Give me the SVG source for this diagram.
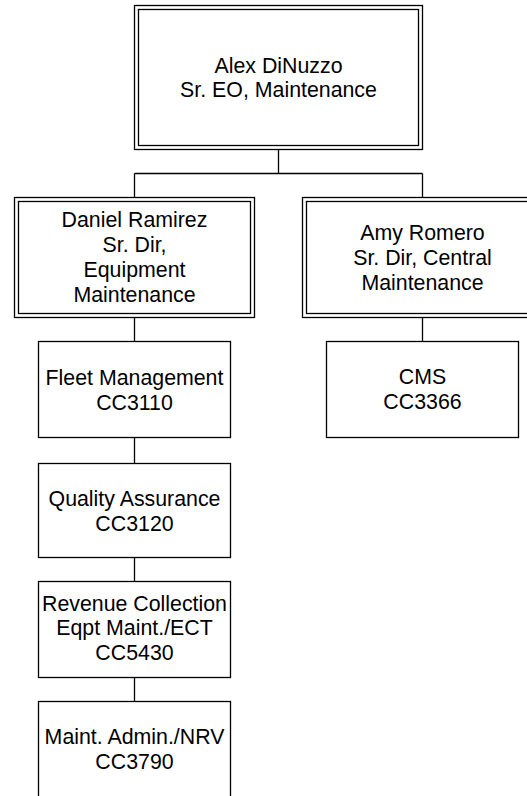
<svg xmlns="http://www.w3.org/2000/svg" width="527" height="796" viewBox="0 0 527 796">
<style>
rect { fill: #ffffff; stroke: #000000; stroke-width: 1.3; }
.conn line { stroke: #000000; stroke-width: 1.3; }
text { font-family: "Liberation Sans", Arial, sans-serif; font-size: 21.33px; fill: #000000; text-anchor: middle; }
</style>
<rect x="0" y="0" width="527" height="796" style="stroke:none"/>
<g id="connectors" class="conn">
<line x1="278.5" y1="149.5" x2="278.5" y2="173.5"/>
<line x1="134.5" y1="173.5" x2="422.5" y2="173.5"/>
<line x1="134.5" y1="173.5" x2="134.5" y2="197.5"/>
<line x1="422.5" y1="173.5" x2="422.5" y2="197.5"/>
<line x1="134.5" y1="317.5" x2="134.5" y2="341.5"/>
<line x1="134.5" y1="437.5" x2="134.5" y2="463.5"/>
<line x1="134.5" y1="557.5" x2="134.5" y2="581.5"/>
<line x1="134.5" y1="677.5" x2="134.5" y2="701.5"/>
<line x1="422.5" y1="317.5" x2="422.5" y2="341.5"/>
</g>
<g id="alex">
<rect x="134.5" y="5.5" width="288" height="144"/>
<rect x="138.5" y="9.5" width="280" height="136"/>
<text x="278.5" y="72.5">Alex DiNuzzo</text>
<text x="278.5" y="97">Sr. EO, Maintenance</text>
</g>
<g id="daniel">
<rect x="14.5" y="197.5" width="240" height="120"/>
<rect x="18.5" y="201.5" width="232" height="112"/>
<text x="134.5" y="227">Daniel Ramirez</text>
<text x="134.5" y="252">Sr. Dir,</text>
<text x="134.5" y="277">Equipment</text>
<text x="134.5" y="302">Maintenance</text>
</g>
<g id="amy">
<rect x="302.5" y="197.5" width="240" height="120"/>
<rect x="306.5" y="201.5" width="232" height="112"/>
<text x="422.5" y="240">Amy Romero</text>
<text x="422.5" y="265">Sr. Dir, Central</text>
<text x="422.5" y="290">Maintenance</text>
</g>
<g id="fleet">
<rect x="38.5" y="341.5" width="192" height="96"/>
<text x="134.5" y="384.5">Fleet Management</text>
<text x="134.5" y="409.5">CC3110</text>
</g>
<g id="quality">
<rect x="38.5" y="463.5" width="192" height="94"/>
<text x="134.5" y="505.5">Quality Assurance</text>
<text x="134.5" y="530.5">CC3120</text>
</g>
<g id="revenue">
<rect x="38.5" y="581.5" width="192" height="96"/>
<text x="134.5" y="611">Revenue Collection</text>
<text x="134.5" y="635">Eqpt Maint./ECT</text>
<text x="134.5" y="660">CC5430</text>
</g>
<g id="admin">
<rect x="38.5" y="701.5" width="192" height="96"/>
<text x="134.5" y="744">Maint. Admin./NRV</text>
<text x="134.5" y="769">CC3790</text>
</g>
<g id="cms">
<rect x="326.5" y="341.5" width="192" height="96"/>
<text x="422.5" y="384">CMS</text>
<text x="422.5" y="409">CC3366</text>
</g>
</svg>
